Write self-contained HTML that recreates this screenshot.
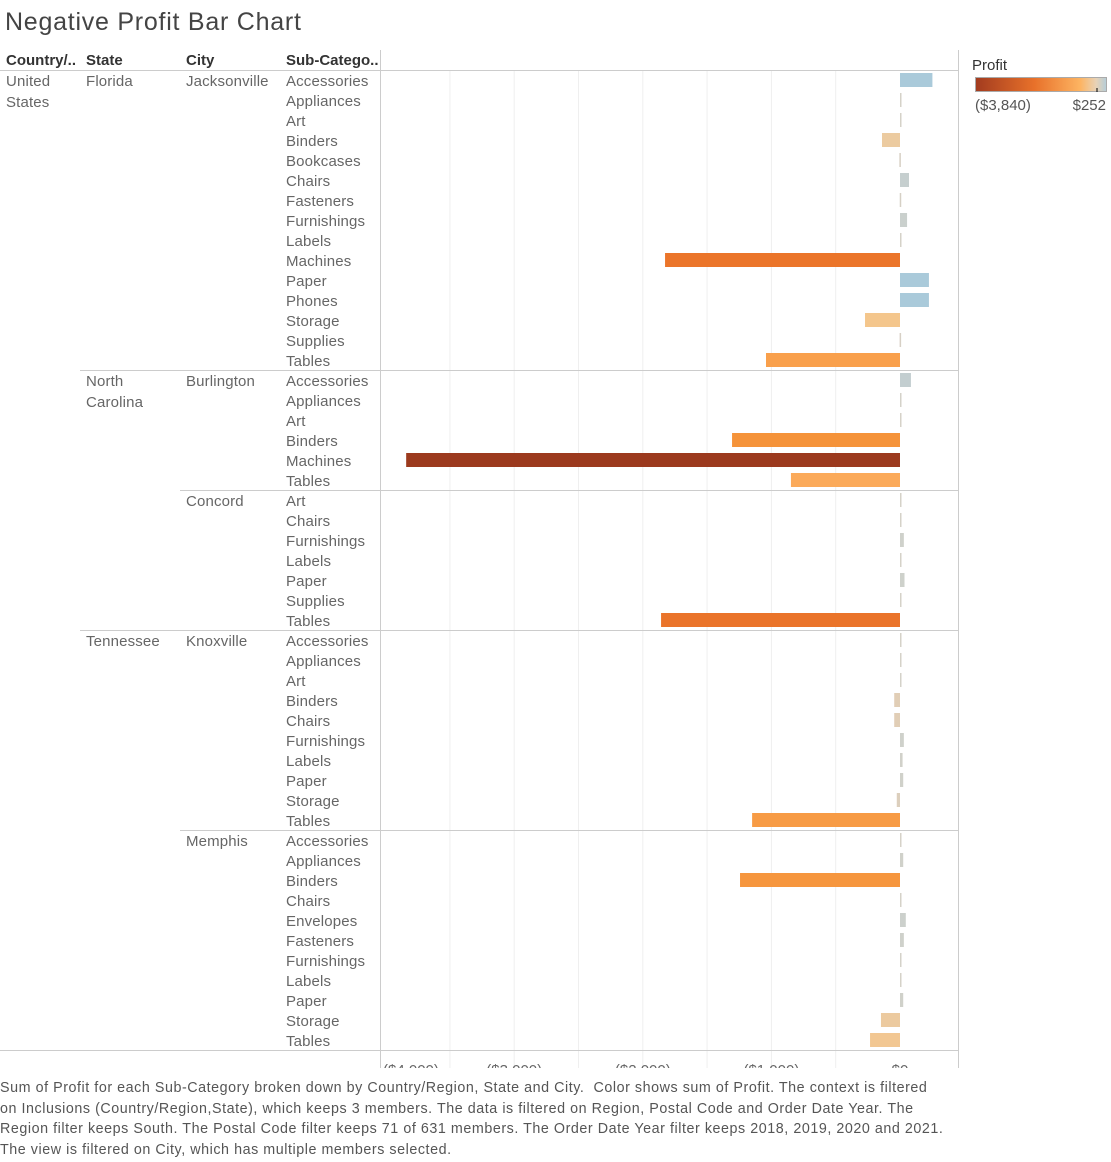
<!DOCTYPE html>
<html><head><meta charset="utf-8"><style>
body{margin:0;width:1111px;height:1162px;background:#fff;font-family:"Liberation Sans",sans-serif;position:relative;overflow:hidden}
.t{position:absolute;white-space:nowrap}
</style></head><body>
<div class="t" style="left:5px;top:8px;font-size:25px;color:#444;letter-spacing:0.75px">Negative Profit Bar Chart</div>
<svg id="c" width="1111" height="1162" style="position:absolute;left:0;top:0"></svg>
<div class="t" style="left:0;top:1078px;font-size:14.3px;line-height:20.6px;color:#555;letter-spacing:0.55px">Sum of Profit for each Sub-Category broken down by Country/Region, State and City.&nbsp; Color shows sum of Profit. The context is filtered<br>on Inclusions (Country/Region,State), which keeps 3 members. The data is filtered on Region, Postal Code and Order Date Year. The<br>Region filter keeps South. The Postal Code filter keeps 71 of 631 members. The Order Date Year filter keeps 2018, 2019, 2020 and 2021.<br>The view is filtered on City, which has multiple members selected.</div>
<script>
const cities=["Jacksonville","Burlington","Concord","Knoxville","Memphis"];
const cityState=["Florida","North Carolina","North Carolina","Tennessee","Tennessee"];
const subcats=[
["Accessories","Appliances","Art","Binders","Bookcases","Chairs","Fasteners","Furnishings","Labels","Machines","Paper","Phones","Storage","Supplies","Tables"],
["Accessories","Appliances","Art","Binders","Machines","Tables"],
["Art","Chairs","Furnishings","Labels","Paper","Supplies","Tables"],
["Accessories","Appliances","Art","Binders","Chairs","Furnishings","Labels","Paper","Storage","Tables"],
["Accessories","Appliances","Binders","Chairs","Envelopes","Fasteners","Furnishings","Labels","Paper","Storage","Tables"]];
const profits=[
[252,5,5,-140,-5,70,-2,55,5,-1827,225,225,-272,-3,-1042],
[85,10,1,-1306,-3840,-848],
[3,5,30,5,35,3,-1858],
[4,3,8,-45,-45,30,20,25,-25,-1150],
[2,25,-1244,3,45,30,8,3,25,-148,-233]];
const ticks=[-4000,-3000,-2000,-1000,0];
const tickLabels=["($4,000)","($3,000)","($2,000)","($1,000)","$0"];
const gridVals=[-3500,-3000,-2500,-2000,-1500,-1000,-500];
const vmin=-3840,vmax=252;
const X=v=>900+v*0.1286;
const NS="http://www.w3.org/2000/svg";
const svg=document.getElementById('c');
function el(tag,a){const e=document.createElementNS(NS,tag);for(const k in a)e.setAttribute(k,a[k]);svg.appendChild(e);return e;}
function lerp(a,b,t){return a.map((x,i)=>Math.round(x+(b[i]-x)*t));}
function color(v){
  if(v>=0){const t=Math.min(1,v/vmax);return 'rgb('+lerp([214,210,200],[170,202,218],Math.min(1,t*1.3)).join(',')+')';}
  const t=Math.min(1,v/vmin);
  const stops=[[0,[214,208,198]],[0.02,[232,205,170]],[0.07,[244,198,140]],[0.22,[251,170,90]],[0.35,[245,145,55]],[0.5,[233,112,40]],[1,[156,58,30]]];
  for(let i=1;i<stops.length;i++){if(t<=stops[i][0]){const a=stops[i-1],b=stops[i];return 'rgb('+lerp(a[1],b[1],(t-a[0])/(b[0]-a[0])).join(',')+')';}}
  return 'rgb(156,58,30)';
}
const d=el('defs',{});
d.innerHTML='<linearGradient id="g"><stop offset="0" stop-color="#a23b1f"/><stop offset="0.45" stop-color="#e8712a"/><stop offset="0.8" stop-color="#fdb462"/><stop offset="0.92" stop-color="#e8d2b6"/><stop offset="1" stop-color="#b5cdd8"/></linearGradient><clipPath id="ax"><rect x="380" y="1051" width="580" height="17"/></clipPath>';
gridVals.forEach(v=>{const g=el('line',{x1:X(v),x2:X(v),y1:70,y2:1068,stroke:'#efefef','stroke-width':1});

});
const hdr=[["Country/..",6],["State",86],["City",186],["Sub-Catego..",286]];
hdr.forEach(h=>{const t=el('text',{x:h[1],y:65,'font-size':15,fill:'#333','font-weight':'bold'});t.textContent=h[0];

});
el('line',{x1:0,x2:958,y1:70.5,y2:70.5,stroke:'#ccc'});
el('line',{x1:380.5,x2:380.5,y1:50,y2:1068,stroke:'#ccc'});
el('line',{x1:958.5,x2:958.5,y1:50,y2:1068,stroke:'#ccc'});
el('line',{x1:0,x2:958,y1:1050.5,y2:1050.5,stroke:'#ccc'});
function lbl(s,x,y,name){const t=el('text',{x:x,y:y,'font-size':15,fill:'#666','letter-spacing':0.15});t.textContent=s;

return t;}
lbl("United",6,86,'country-label');lbl("States",6,107,'country-label');
let y=70;let prevState="";
cities.forEach((c,ci)=>{
  if(ci>0){const x0=cityState[ci]!==prevState?80:180;el('line',{x1:x0,x2:958,y1:y+0.5,y2:y+0.5,stroke:'#ccc'});}
  if(cityState[ci]!==prevState){const p=cityState[ci].split(' ');lbl(p[0],86,y+16,'state-label');if(p[1])lbl(p[1],86,y+37,'state-label');}
  prevState=cityState[ci];
  lbl(c,186,y+16,'city-label');
  subcats[ci].forEach((s,si)=>{
    lbl(s,286,y+16,'subcategory-label');
    const v=profits[ci][si];const x0=Math.min(X(v),X(0));let w=Math.abs(X(v)-X(0));if(w<1.5)w=1.5;
    const r=el('rect',{x:x0,y:y+3,width:w,height:14,fill:color(v)});
    
    
    y+=20;
  });
});
ticks.forEach((v,i)=>{const t=el('text',{x:i==0?383:X(v),y:1075,'font-size':15,fill:'#666','text-anchor':i==0?'start':'middle','clip-path':'url(#ax)'});t.textContent=tickLabels[i];

});
const lt=el('text',{x:972,y:70,'font-size':15,fill:'#333'});lt.textContent="Profit";


const lg=el('rect',{x:975.5,y:77.5,width:131,height:14,fill:'url(#g)',stroke:'#aaa'});


el('line',{x1:1097,x2:1097,y1:88,y2:92,stroke:'#000'});
const l1=el('text',{x:975,y:110,'font-size':15,fill:'#555'});l1.textContent="($3,840)";


const l2=el('text',{x:1106,y:110,'font-size':15,fill:'#555','text-anchor':'end'});l2.textContent="$252";


</script>
</body></html>
